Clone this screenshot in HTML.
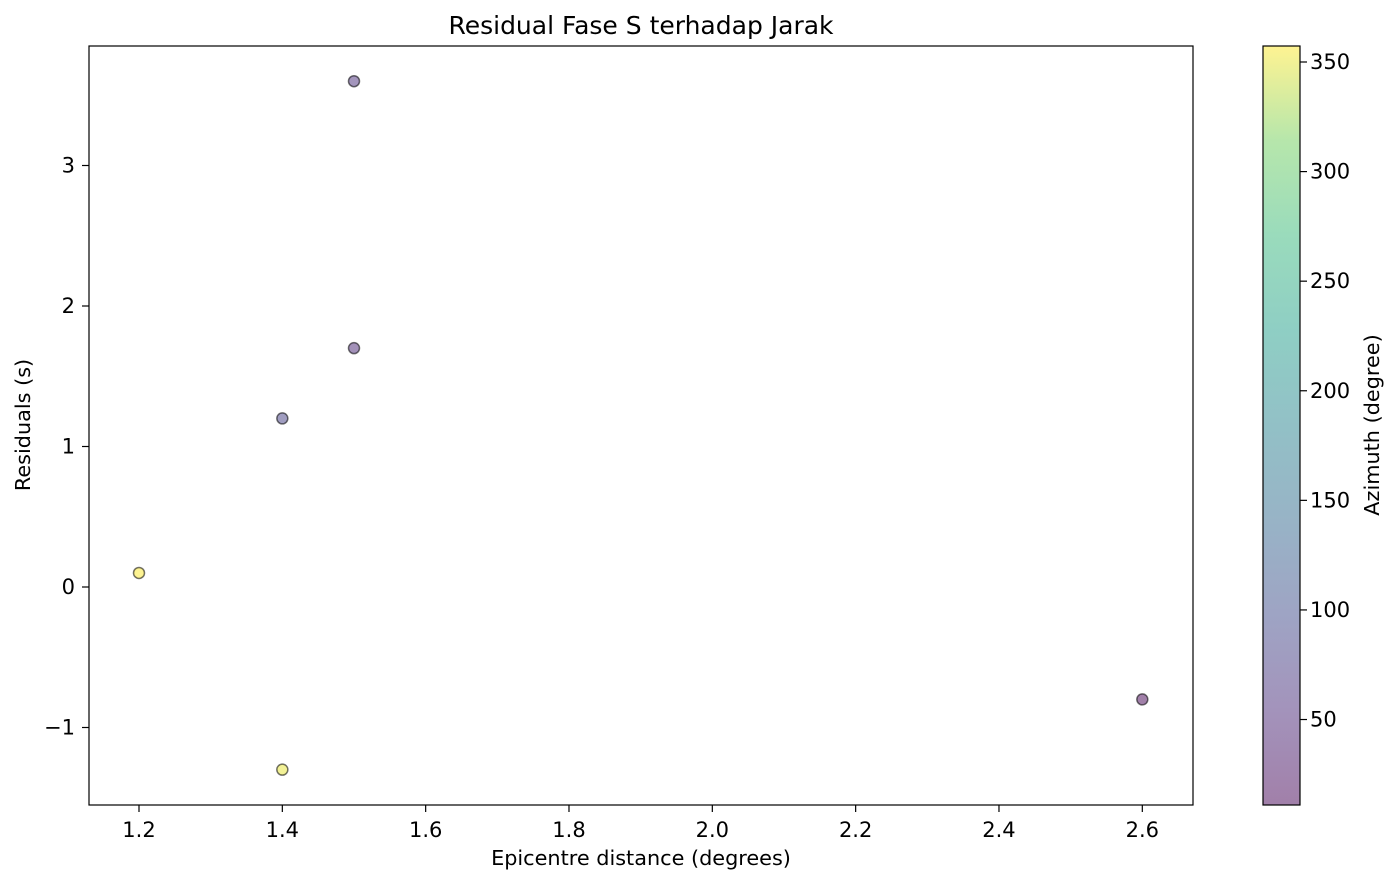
<!DOCTYPE html>
<html><head><meta charset="utf-8"><style>
body{margin:0;background:#fff;font-family:"Liberation Sans","DejaVu Sans",sans-serif;}
svg text{font-family:"DejaVu Sans","Liberation Sans",sans-serif;fill:#000;}
</style></head><body>
<svg id="chart" width="1397" height="884" xmlns="http://www.w3.org/2000/svg">
<defs>
<linearGradient id="vir" x1="0" y1="1" x2="0" y2="0">
<stop offset="0" stop-color="#440154"/><stop offset="0.125" stop-color="#482878"/>
<stop offset="0.25" stop-color="#3e4989"/><stop offset="0.375" stop-color="#31688e"/>
<stop offset="0.5" stop-color="#26828e"/><stop offset="0.625" stop-color="#1f9e89"/>
<stop offset="0.75" stop-color="#35b779"/><stop offset="0.875" stop-color="#6ece58"/>
<stop offset="1" stop-color="#fde725"/>
</linearGradient>
</defs>
<text x="641" y="34" font-size="25" text-anchor="middle">Residual Fase S terhadap Jarak</text>
<g id="marks"></g>
<rect x="89" y="46" width="1104" height="759" fill="none" stroke="#000" stroke-width="1.2"/>
<g id="xt"></g><g id="yt"></g>
<text x="641" y="865" font-size="20.8" text-anchor="middle">Epicentre distance (degrees)</text>
<text transform="translate(30,425) rotate(-90)" font-size="20.8" text-anchor="middle">Residuals (s)</text>
<rect x="1263" y="46" width="37" height="759" fill="url(#vir)" fill-opacity="0.5" stroke="#000" stroke-width="1.2"/>
<g id="ct"></g>
<text transform="translate(1379,425) rotate(-90)" font-size="20.8" text-anchor="middle">Azimuth (degree)</text>
</svg>
<script>
const distances=[1.5,1.5,1.4,1.2,2.6,1.4];
const residuals=[3.6,1.7,1.2,0.1,-0.8,-1.3];
const azimuths=[60,50,80,357,11,350];
const xTicks=[1.2,1.4,1.6,1.8,2.0,2.2,2.4,2.6];
const yTicks=[-1,0,1,2,3];
const cTicks=[50,100,150,200,250,300,350];
const cMin=11,cMax=357.3;
const NS="http://www.w3.org/2000/svg";
const X=v=>139+(v-1.2)/0.2*143.33;
const Y=v=>587-v*140.5;
const C=v=>805-(v-cMin)/(cMax-cMin)*759;
const stops=[[68,1,84],[72,40,120],[62,73,137],[49,104,142],[38,130,142],[31,158,137],[53,183,121],[110,206,88],[253,231,37]];
function vir(t){t=Math.max(0,Math.min(1,t))*8;const i=Math.min(7,Math.floor(t)),f=t-i;const a=stops[i],b=stops[i+1];return `rgb(${a.map((v,k)=>Math.round(v+(b[k]-v)*f)).join(',')})`;}
function mk(tag,at,p){const e=document.createElementNS(NS,tag);for(const k in at)e.setAttribute(k,at[k]);p.appendChild(e);return e;}
const m=document.getElementById('marks');
distances.forEach((d,i)=>{const c=mk('circle',{cx:X(d),cy:Y(residuals[i]),r:5.5,fill:vir((azimuths[i]-cMin)/(cMax-cMin)),'fill-opacity':0.5,stroke:'#000','stroke-opacity':0.55,'stroke-width':1.5},m);

});
const xt=document.getElementById('xt');
xTicks.forEach(v=>{const x=X(v);mk('line',{x1:x,x2:x,y1:805,y2:812,stroke:'#000','stroke-width':1.2},xt);const t=mk('text',{x:x,y:837,'font-size':21,'text-anchor':'middle'},xt);t.textContent=v.toFixed(1);

});
const yt=document.getElementById('yt');
yTicks.forEach(v=>{const y=Y(v);mk('line',{x1:82,x2:89,y1:y,y2:y,stroke:'#000','stroke-width':1.2},yt);const t=mk('text',{x:75,y:y+7,'font-size':21,'text-anchor':'end'},yt);t.textContent=v<0?'\u2212'+(-v):v;

});
const ct=document.getElementById('ct');
cTicks.forEach(v=>{const y=C(v);mk('line',{x1:1300,x2:1307,y1:y,y2:y,stroke:'#000','stroke-width':1.2},ct);const t=mk('text',{x:1310,y:y+7,'font-size':21},ct);t.textContent=v;

});
</script>
</body></html>
